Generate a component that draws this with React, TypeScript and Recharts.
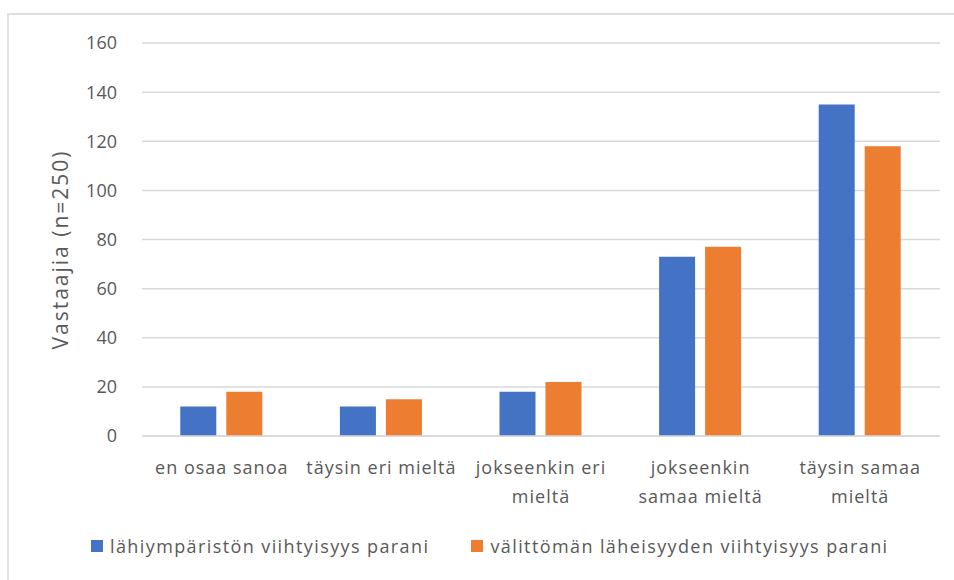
import React from 'react';
import { BarChart, Bar, XAxis, YAxis, CartesianGrid, Legend } from 'recharts';

const categories = ['en osaa sanoa', 'täysin eri mieltä', 'jokseenkin eri mieltä', 'jokseenkin samaa mieltä', 'täysin samaa mieltä'];
const categoryLines = [['en osaa sanoa'], ['täysin eri mieltä'], ['jokseenkin eri', 'mieltä'], ['jokseenkin', 'samaa mieltä'], ['täysin samaa', 'mieltä']];
const seriesNames = ['lähiympäristön viihtyisyys parani', 'välittömän läheisyyden viihtyisyys parani'];
const lahiymparisto = [12, 12, 18, 73, 135];
const valiton = [18, 15, 22, 77, 118];
const yTicks = [0, 20, 40, 60, 80, 100, 120, 140, 160];
const yLabel = 'Vastaajia (n=250)';
const colors = ['#4472C4', '#ED7D31'];

const data = categories.map((c, i) => ({ name: c, a: lahiymparisto[i], b: valiton[i] }));

const FONT = '"Open Sans", sans-serif';
const TEXT = '#595959';

const XTick = (props: any) => {
  const { x, y, payload } = props;
  const idx = categories.indexOf(payload.value);
  const lines = categoryLines[idx] || [payload.value];
  return (
    <g>
      {lines.map((l, i) => (
        <text key={i} x={x} y={y + 30 + i * 29} textAnchor="middle" fill={TEXT} fontSize={18} letterSpacing={1} fontFamily={FONT}>
          {l}
        </text>
      ))}
    </g>
  );
};

const LegendContent = () => (
  <div style={{ display: 'flex', alignItems: 'center', marginLeft: 91, fontFamily: FONT, fontSize: 18, letterSpacing: 1.4, color: TEXT, whiteSpace: 'nowrap' }}>
    {seriesNames.map((n, i) => (
      <div key={n} style={{ display: 'flex', alignItems: 'center', marginRight: 42 }}>
        <span style={{ display: 'inline-block', width: 12, height: 12, background: colors[i], marginRight: 7 }} />
        <span>{n}</span>
      </div>
    ))}
  </div>
);

export default function App() {
  return (
    <div style={{ position: 'absolute', left: 0, top: 0, width: 954, height: 580, background: '#fff', overflow: 'hidden' }}>
      <div style={{ position: 'absolute', left: 7, top: 13, width: 960, height: 600, borderLeft: '2px solid #e0e0e0', borderTop: '2px solid #e0e0e0' }} />
      <div style={{ position: 'absolute', left: 0, top: 0 }}>
        <BarChart width={954} height={580} data={data} margin={{ top: 43, right: 14, left: 42, bottom: 16 }} barCategoryGap="24%" barGap={10}>
          <CartesianGrid vertical={false} stroke="#d9d9d9" strokeWidth={1.5} />
          <XAxis dataKey="name" height={98} tick={<XTick />} tickLine={false} axisLine={{ stroke: '#d9d9d9', strokeWidth: 1.5 }} interval={0} />
          <YAxis
            width={100}
            domain={[0, 160]}
            ticks={yTicks}
            axisLine={false}
            tickLine={false}
            tickMargin={19}
            tick={{ fill: TEXT, fontSize: 18, fontFamily: FONT }}
            label={{ value: yLabel, angle: -90, position: 'insideLeft', dx: 14, dy: 10, style: { textAnchor: 'middle', fill: TEXT, fontSize: 21, letterSpacing: 2, fontFamily: FONT } }}
          />
          <Legend verticalAlign="bottom" height={30} wrapperStyle={{ width: 954, left: 0 }} content={<LegendContent />} />
          <Bar dataKey="a" name={seriesNames[0]} fill={colors[0]} isAnimationActive={false} />
          <Bar dataKey="b" name={seriesNames[1]} fill={colors[1]} isAnimationActive={false} />
        </BarChart>
      </div>
    </div>
  );
}
